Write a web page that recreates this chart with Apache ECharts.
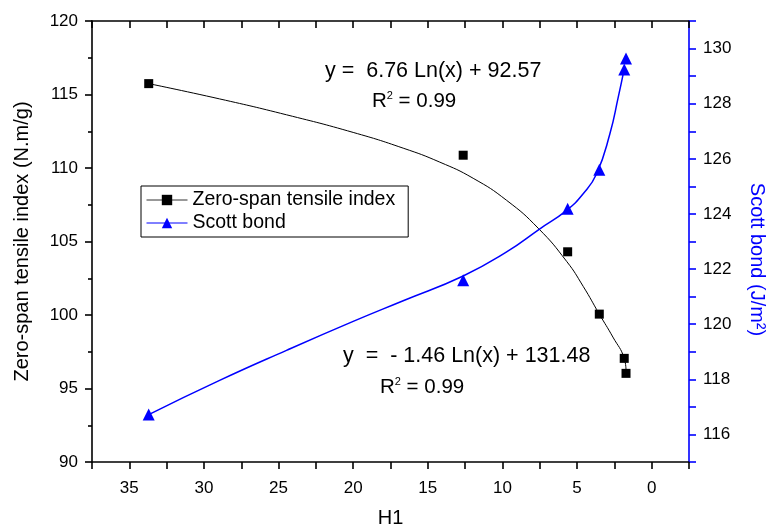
<!DOCTYPE html>
<html>
<head>
<meta charset="utf-8">
<style>
    html, body { margin: 0; height: 100%; background: #fff; }
    #main { width: 770px; height: 527px; }
</style>
</head>
<body>
<div id="main"></div>
<script src="https://cdn.jsdelivr.net/npm/echarts@6/dist/echarts.min.js"></script>
<script type="text/javascript">
    // measured points
    var h1 = [33.7, 12.63, 5.63, 3.51, 1.84, 1.72];
    var zeroSpan = [115.74, 110.87, 104.3, 100.06, 97.05, 96.03];
    var h1Scott = [33.7, 12.63, 5.63, 3.51, 1.84, 1.72];
    var scottBond = [116.72, 121.59, 124.19, 125.6, 129.24, 129.64];

    // fitted curves
    var zeroFitX = [1.72, 1.84, 2.6, 3.51, 4.59, 5.7, 7.6, 9.72, 11.96, 14.2, 16.65, 20.0, 24.47, 28.95, 33.7];
    var zeroFitY = [96.25, 97.05, 98.5, 100.06, 101.95, 103.65, 105.9, 107.8, 109.3, 110.4, 111.35, 112.42, 113.62, 114.7, 115.74];
    var scottFitX = [1.86, 2.24, 2.8, 3.69, 4.59, 5.7, 7.49, 9.72, 12.63, 16.65, 20.0, 24.47, 28.95, 33.7];
    var scottFitY = [129.21, 128.24, 126.91, 125.46, 124.73, 124.13, 123.46, 122.62, 121.75, 120.85, 120.1, 119.05, 117.96, 116.72];

    var FONT = '"Liberation Sans", Arial, sans-serif';
    var BLUE = '#0000ff';

    function pairs(xs, ys) {
        return xs.map(function (x, i) { return [x, ys[i]]; });
    }

    var chart = echarts.init(document.getElementById('main'));

    var rSquared = {
        a: { fontSize: 20.5, fontFamily: FONT, fill: '#000', lineHeight: 22 },
        b: { fontSize: 11, fontFamily: FONT, fill: '#000', verticalAlign: 'top', lineHeight: 22 }
    };

    var option = {
        animation: false,
        textStyle: { fontFamily: FONT },
        grid: { left: 92, right: 81, top: 21, bottom: 65, outerBoundsMode: 'none' },
        legend: {
            orient: 'vertical',
            left: 141,
            top: 186,
            padding: [4, 13, 4, 5],
            itemGap: 3,
            itemWidth: 41,
            itemHeight: 13,
            borderColor: '#000',
            borderWidth: 1,
            textStyle: { fontSize: 19.5, color: '#000', fontFamily: FONT },
            data: [
                { name: 'Zero-span tensile index', lineStyle: { opacity: 1, color: '#333', width: 1 } },
                { name: 'Scott bond', lineStyle: { opacity: 1, color: BLUE, width: 1 } }
            ]
        },
        xAxis: [
            {
                type: 'value',
                position: 'bottom',
                inverse: true,
                min: -2.5,
                max: 37.5,
                interval: 2.5,
                name: 'H1',
                nameLocation: 'middle',
                nameGap: 46,
                nameTextStyle: { fontSize: 20, color: '#000' },
                axisLine: { onZero: false, lineStyle: { color: '#000', width: 1.6 } },
                axisTick: { length: 7, lineStyle: { color: '#000', width: 1.6 } },
                axisLabel: {
                    fontSize: 17, color: '#000', margin: 18,
                    formatter: function (v) { return v % 5 === 0 ? String(v) : ''; }
                },
                splitLine: { show: false }
            },
            {
                type: 'value',
                position: 'top',
                inverse: true,
                min: -2.5,
                max: 37.5,
                interval: 2.5,
                axisLine: { onZero: false, lineStyle: { color: '#000', width: 1.6 } },
                axisTick: { inside: true, length: 7, lineStyle: { color: '#000', width: 1.6 } },
                axisLabel: { show: false },
                splitLine: { show: false }
            }
        ],
        yAxis: [
            {
                type: 'value',
                position: 'left',
                min: 90,
                max: 120,
                interval: 5,
                name: 'Zero-span tensile index (N.m/g)',
                nameLocation: 'middle',
                nameGap: 60,
                nameTextStyle: { fontSize: 20, color: '#000' },
                axisLine: { show: true, onZero: false, lineStyle: { color: '#000', width: 1.6 } },
                axisTick: { length: 7, lineStyle: { color: '#000', width: 1.6 } },
                minorTick: { show: true, splitNumber: 2, length: 4, lineStyle: { color: '#000', width: 1.6 } },
                axisLabel: { fontSize: 17, color: '#000', margin: 14 },
                splitLine: { show: false }
            },
            {
                type: 'value',
                position: 'right',
                min: 115,
                max: 131,
                interval: 1,
                name: 'Scott bond (J/m²)',
                nameLocation: 'middle',
                nameRotate: -90,
                nameGap: 58,
                nameTextStyle: { fontSize: 20, color: BLUE, padding: [0, 0, 0, 36] },
                axisLine: { show: true, onZero: false, lineStyle: { color: BLUE, width: 1.6 } },
                axisTick: { length: 7, lineStyle: { color: BLUE, width: 1.6 } },
                axisLabel: {
                    fontSize: 17, color: '#000', margin: 14,
                    formatter: function (v) { return v % 2 === 0 ? String(v) : ''; }
                },
                splitLine: { show: false }
            }
        ],
        series: [
            {
                name: 'zeroFit',
                type: 'line',
                data: pairs(zeroFitX, zeroFitY),
                smooth: 0.5,
                symbol: 'none',
                silent: true,
                lineStyle: { color: '#000', width: 1 },
                z: 2
            },
            {
                name: 'scottFit',
                type: 'line',
                yAxisIndex: 1,
                data: pairs(scottFitX, scottFitY),
                smooth: 0.5,
                symbol: 'none',
                silent: true,
                lineStyle: { color: BLUE, width: 1.5 },
                z: 2
            },
            {
                name: 'Zero-span tensile index',
                type: 'line',
                data: pairs(h1, zeroSpan),
                symbol: 'rect',
                symbolSize: 9,
                itemStyle: { color: '#000' },
                lineStyle: { opacity: 0 },
                z: 3
            },
            {
                name: 'Scott bond',
                type: 'line',
                yAxisIndex: 1,
                data: pairs(h1Scott, scottBond),
                symbol: 'triangle',
                symbolSize: 12,
                itemStyle: { color: BLUE },
                lineStyle: { opacity: 0 },
                z: 3
            }
        ],
        graphic: [
            {
                type: 'text', left: 325, top: 60,
                style: { text: 'y =  6.76 Ln(x) + 92.57', fontSize: 21.5, fontFamily: FONT, fill: '#000' }
            },
            {
                type: 'text', left: 372, top: 90,
                style: { text: '{a|R}{b|2}{a| = 0.99}', rich: rSquared }
            },
            {
                type: 'text', left: 343, top: 345,
                style: { text: 'y  =  - 1.46 Ln(x) + 131.48', fontSize: 21.5, fontFamily: FONT, fill: '#000' }
            },
            {
                type: 'text', left: 380, top: 376,
                style: { text: '{a|R}{b|2}{a| = 0.99}', rich: rSquared }
            }
        ]
    };

    chart.setOption(option);
</script>
</body>
</html>
